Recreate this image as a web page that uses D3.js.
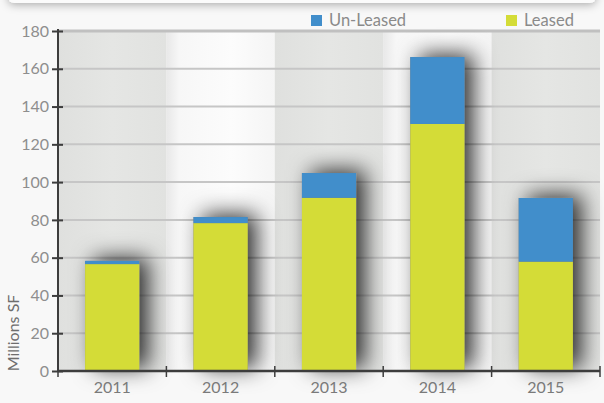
<!DOCTYPE html>
<html>
<head>
<meta charset="utf-8">
<script src="https://cdn.jsdelivr.net/npm/d3@7"></script>
<style>
  html, body { margin: 0; padding: 0; background: #f8f8f8; }
  svg { display: block; }
  text { font-family: "Lato", "DejaVu Sans", sans-serif; }
</style>
</head>
<body>
<svg id="chart" width="604" height="403"></svg>
<script>
// Office space by year, millions of square feet
const years = ["2011", "2012", "2013", "2014", "2015"];
const leased = [56.6, 78.3, 91.7, 130.8, 57.9];
const unLeased = [1.7, 3.2, 13.1, 35.4, 33.7];
const yTicks = [0, 20, 40, 60, 80, 100, 120, 140, 160, 180];
const seriesNames = ["Un-Leased", "Leased"];
const seriesColors = ["#418ecb", "#d4dc37"];

const W = 604, H = 403;
const margin = { left: 58, right: 4, top: 31, bottom: 32 };

const svg = d3.select("#chart");
const defs = svg.append("defs");

// soft dark shadow behind each bar
const sh = defs.append("filter").attr("id", "barShadow")
  .attr("x", "-90%").attr("y", "-50%").attr("width", "280%").attr("height", "200%");
sh.append("feDropShadow").attr("dx", 9).attr("dy", -3)
  .attr("stdDeviation", 11).attr("flood-color", "#000").attr("flood-opacity", 0.8);

// shadow under the top panel edge
const ps = defs.append("filter").attr("id", "panelShadow")
  .attr("x", "-10%").attr("y", "-50%").attr("width", "120%").attr("height", "300%");
ps.append("feDropShadow").attr("dx", 0).attr("dy", 2)
  .attr("stdDeviation", 4).attr("flood-color", "#000").attr("flood-opacity", 0.3);

// column band gradients
const gGrey = defs.append("linearGradient").attr("id", "bandGrey");
gGrey.append("stop").attr("offset", "0%").attr("stop-color", "#dfe0de");
gGrey.append("stop").attr("offset", "50%").attr("stop-color", "#e5e6e4");
gGrey.append("stop").attr("offset", "100%").attr("stop-color", "#e1e2e0");
const gWhite = defs.append("linearGradient").attr("id", "bandWhite");
gWhite.append("stop").attr("offset", "0%").attr("stop-color", "#e8e8e8");
gWhite.append("stop").attr("offset", "12%").attr("stop-color", "#f7f7f7");
gWhite.append("stop").attr("offset", "60%").attr("stop-color", "#fcfcfc");
gWhite.append("stop").attr("offset", "100%").attr("stop-color", "#f5f5f5");

const x = d3.scaleBand().domain(years)
  .range([margin.left, W - margin.right]).paddingInner(0).paddingOuter(0);
const y = d3.scaleLinear().domain([0, 180]).range([H - margin.bottom, margin.top]);

// top panel edge
svg.append("rect").attr("x", 8).attr("y", -30).attr("width", W - 16).attr("height", 33)
  .attr("rx", 6).attr("fill", "#fbfbfb").attr("filter", "url(#panelShadow)");

// alternating column bands
svg.append("g").selectAll("rect").data(years).join("rect")
  .attr("x", d => x(d))
  .attr("y", y(180))
  .attr("width", x.bandwidth())
  .attr("height", y(0) - y(180))
  .attr("fill", (d, i) => i % 2 === 0 ? "url(#bandGrey)" : "url(#bandWhite)");

// horizontal gridlines
svg.append("g").selectAll("line").data(yTicks.filter(t => t > 0)).join("line")
  .attr("x1", margin.left).attr("x2", W - margin.right)
  .attr("y1", d => y(d)).attr("y2", d => y(d))
  .attr("stroke", d => d === 180 ? "#c0c0c0" : "#c6c6c6")
  .attr("stroke-width", d => d === 180 ? 3 : 2);

// stacked bars
const rows = years.map((yr, i) => ({ year: yr, leased: leased[i], unLeased: unLeased[i] }));
const stack = d3.stack().keys(["leased", "unLeased"])(rows);
const colorOf = { leased: seriesColors[1], unLeased: seriesColors[0] };
const bw = x.bandwidth() * 0.5;

const barG = svg.append("g");
// shadow layer from the full stack height
barG.append("g").selectAll("rect").data(rows).join("rect")
  .attr("x", d => x(d.year) + (x.bandwidth() - bw) / 2)
  .attr("y", d => y(d.leased + d.unLeased))
  .attr("width", bw)
  .attr("height", d => y(0) - y(d.leased + d.unLeased))
  .attr("fill", "#777").attr("filter", "url(#barShadow)");

stack.forEach(layer => {
  barG.append("g").selectAll("rect").data(layer).join("rect")
    .attr("x", d => x(d.data.year) + (x.bandwidth() - bw) / 2)
    .attr("y", d => y(d[1]))
    .attr("width", bw)
    .attr("height", d => y(d[0]) - y(d[1]))
    .attr("fill", colorOf[layer.key]);
});

// y axis
const yAxis = svg.append("g").attr("transform", `translate(${margin.left},0)`)
  .call(d3.axisLeft(y).tickValues(yTicks).tickSize(0).tickPadding(9));
yAxis.select(".domain").attr("stroke", "#3d3d3d").attr("stroke-width", 2)
  .attr("d", `M0,${y(180) - 2}V${y(0)}`);
yAxis.selectAll(".tick line").attr("x1", -6).attr("x2", 5)
  .attr("stroke", "#3d3d3d").attr("stroke-width", 2);
yAxis.selectAll(".tick text").attr("fill", "#8e8e8e").attr("font-size", 16)
  .attr("dy", "0.32em");

// x axis
const xAxis = svg.append("g").attr("transform", `translate(0,${y(0)})`)
  .call(d3.axisBottom(x).tickSize(0).tickPadding(11));
xAxis.select(".domain").attr("stroke", "#3d3d3d").attr("stroke-width", 2.5)
  .attr("d", `M${margin.left},0H${W - margin.right}`);
xAxis.selectAll(".tick text").attr("fill", "#7a7a7a").attr("font-size", 16)
  .attr("dy", "0.71em");
const bounds = years.map(d => x(d)).concat([x(years[years.length - 1]) + x.bandwidth()]);
xAxis.append("g").selectAll("line").data(bounds).join("line")
  .attr("x1", d => d).attr("x2", d => d).attr("y1", -5).attr("y2", 6)
  .attr("stroke", "#3d3d3d").attr("stroke-width", 1.5);

// y axis title
svg.append("text")
  .attr("transform", `translate(19,${y(0) - 38}) rotate(-90)`)
  .attr("text-anchor", "middle")
  .attr("fill", "#6e6e6e").attr("font-size", 16)
  .text("Millions SF");

// legend
const legendX = [311, 506];
const lg = svg.append("g").selectAll("g").data(seriesNames).join("g")
  .attr("transform", (d, i) => `translate(${legendX[i]},15)`);
lg.append("rect").attr("width", 11).attr("height", 11)
  .attr("fill", (d, i) => seriesColors[i]);
lg.append("text").attr("x", 18).attr("y", 11)
  .attr("fill", "#8a8a8a").attr("font-size", 16.5)
  .text(d => d);
</script>
</body>
</html>
